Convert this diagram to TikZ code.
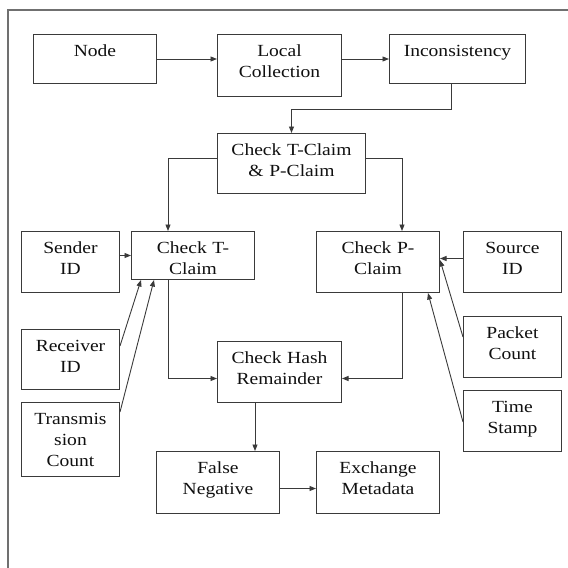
\documentclass[tikz,border=0pt]{standalone}
\usepackage{fontspec}
\setmainfont{Liberation Serif}[FakeStretch=1.15]
\usetikzlibrary{arrows.meta}

\definecolor{edge}{HTML}{3A3A3A}
\definecolor{ink}{HTML}{101010}
\definecolor{framegray}{HTML}{707070}

\tikzset{
  box/.style={draw=edge, line width=1pt, fill=white, text=ink,
    inner sep=0pt, align=center, anchor=north west,
    text height=22pt, font=\fontsize{17}{20.8}\selectfont},
  link/.style={draw=edge, line width=0.9pt,
    -{Triangle[length=6.5pt,width=5pt]}},
  frameline/.style={draw=framegray, line width=1.3pt}
}

\begin{document}
\begin{tikzpicture}[x=1pt, y=-1pt]
\useasboundingbox (0,0) rectangle (568,568);

% outer frame
\draw[frameline] (8,568) -- (8,10) -- (568,10);

% first row
\node[box, text width=123pt, text depth=27pt] (node)   at (33,34)  {Node};
\node[box, text width=124pt, text depth=40pt] (local)  at (217,34) {Local\\Collection};
\node[box, text width=136pt, text depth=27pt] (incons) at (389,34) {Inconsistency};

% claim checks
\node[box, text width=148pt, text depth=38pt] (tp)     at (217,133) {Check T-Claim\\\& P-Claim};
\node[box, text width=98pt,  text depth=39pt] (sender) at (21,231)  {Sender\\ID};
\node[box, text width=123pt, text depth=26pt] (checkt) at (131,231) {Check T-\\Claim};
\node[box, text width=123pt, text depth=39pt] (checkp) at (316,231) {Check P-\\Claim};
\node[box, text width=98pt,  text depth=39pt] (source) at (463,231) {Source\\ID};

% inputs
\node[box, text width=98pt, text depth=38pt] (receiver) at (21,329)  {Receiver\\ID};
\node[box, text width=98pt, text depth=52pt] (trans)    at (21,402)  {Transmis\\sion\\Count};
\node[box, text width=98pt, text depth=39pt] (packet)   at (463,316) {Packet\\Count};
\node[box, text width=98pt, text depth=39pt] (stamp)    at (463,390) {Time\\Stamp};

% result
\node[box, text width=124pt, text depth=39pt] (hash)  at (217,341) {Check Hash\\Remainder};
\node[box, text width=123pt, text depth=40pt] (fneg)  at (156,451) {False\\Negative};
\node[box, text width=123pt, text depth=40pt] (exch)  at (316,451) {Exchange\\Metadata};

% flow
\draw[link] (node.east) -- (node.east -| local.west);
\draw[link] (local.east |- incons.west) -- (incons.west);
\draw[link] ([xshift=-6pt]incons.south) -- ++(0,25) -| (tp.north);
\draw[link] ([yshift=5pt]tp.west) -| ([xshift=-25pt]checkt.north);
\draw[link] ([yshift=5pt]tp.east) -| ([xshift=24pt]checkp.north);

\draw[link] (sender.east |- checkt.west) -- (checkt.west);
\draw[link] ([yshift=3.5pt]source.west) -- ([yshift=3.5pt]checkp.east);
\draw[link] ([yshift=-17pt]receiver.north east) -- ([xshift=10pt]checkt.south west);
\draw[link] ([yshift=-10pt]trans.north east) -- ([xshift=23pt]checkt.south west);
\draw[link] ([yshift=-21pt]packet.north west) -- ([yshift=2pt]checkp.east);
\draw[link] ([yshift=-32pt]stamp.north west) -- ([xshift=-12pt]checkp.south east);

\draw[link] ([xshift=-25pt]checkt.south) |- ([yshift=-6.5pt]hash.west);
\draw[link] ([xshift=24pt]checkp.south) |- ([yshift=-6.5pt]hash.east);
\coordinate (hashout) at ([xshift=-24.5pt]hash.south);
\draw[link] (hashout) -- (hashout |- fneg.north);
\draw[link] ([yshift=-6pt]fneg.east) -- ([yshift=-6pt]exch.west);
\end{tikzpicture}
\end{document}
